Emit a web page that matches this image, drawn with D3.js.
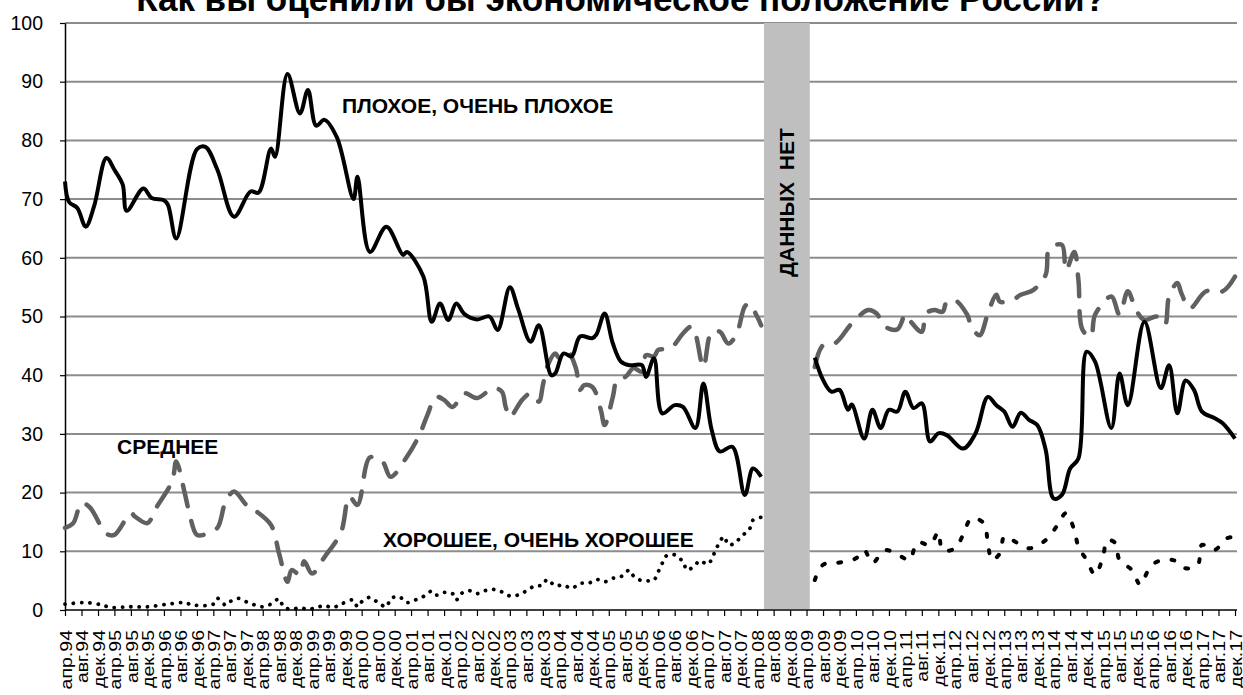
<!DOCTYPE html>
<html>
<head>
<meta charset="utf-8">
<script src="https://cdn.jsdelivr.net/npm/d3@7"></script>
<style>
  body { margin: 0; background: #fff; }
  svg { display: block; font-family: Arial, "Liberation Sans", sans-serif; }
</style>
</head>
<body>
<svg id="chart" width="1243" height="695"></svg>
<script>
// ---- data ----
const title = "Как вы оценили бы экономическое положение России?";
const monthNames = ["апр", "авг", "дек"];
const tickMonths = [4, 8, 12];
const tickYears = d3.range(1994, 2018);
const yTicks = [0, 10, 20, 30, 40, 50, 60, 70, 80, 90, 100];
const gapRange = ["2008-05-22", "2009-04-25"];
const gapLabel = "ДАННЫХ  НЕТ";

// плохое, очень плохое (null = no data)
const badSeries = [
  ["1994-04",73],["1994-05",69.5],["1994-07",68.5],["1994-09",65.3],["1994-11",68.7],
  ["1995-02",77],["1995-04",75],["1995-06",72.5],["1995-07",68],["1995-11",71.8],
  ["1996-01",70.2],["1996-04",69.8],["1996-05",69],["1996-07",63.3],["1996-12",78.5],
  ["1997-02",78.9],["1997-05",75],["1997-09",67],
  ["1998-01",71.3],["1998-03",71.1],["1998-06",78.6],["1998-07",77.2],["1998-10",91.3],
  ["1999-01",84.6],["1999-03",88.6],["1999-05",82.5],["1999-07",83.5],["1999-10",80.5],
  ["2000-02",70],["2000-03",73.8],["2000-06",61],["2000-10",65.3],
  ["2001-02",60.5],["2001-03",61],["2001-07",56.8],["2001-09",49.1],["2001-11",52.2],
  ["2002-01",49.4],["2002-03",52.2],["2002-05",50.4],["2002-08",49.5],["2002-11",50],
  ["2003-01",47.7],["2003-04",55],["2003-06",51.3],["2003-09",45.7],["2003-11",48.5],
  ["2004-02",40],["2004-03",40.3],["2004-05",43.7],["2004-07",43.2],["2004-09",46.6],["2004-12",46.3],
  ["2005-01",47],["2005-03",50.5],["2005-05",45.4],["2005-07",42.3],["2005-09",41.7],["2005-12",41.7],
  ["2006-01",39.7],["2006-03",42.9],["2006-05",33.5],["2006-08",34.9],["2006-10",34.6],
  ["2007-01",31],["2007-03",38.6],["2007-05",30.7],["2007-07",27],["2007-10",27.8],
  ["2008-01",19.6],["2008-03",24.1],["2008-05",22.7],
  ["2008-12",null],
  ["2009-06",43],["2009-08",39.2],["2009-10",37.2],["2009-12",37.5],
  ["2010-02",34.1],["2010-03",35],["2010-06",29.2],["2010-08",34.1],["2010-10",31],["2010-12",34.1],
  ["2011-02",33.8],["2011-04",37.2],["2011-06",34.4],["2011-08",35.2],["2011-10",28.7],["2011-12",30.1],
  ["2012-02",29.8],["2012-06",27.5],["2012-09",30.1],["2012-12",36.3],
  ["2013-02",34.9],["2013-04",33.8],["2013-06",31.2],["2013-08",33.6],["2013-10",32.4],["2013-12",31.5],
  ["2014-02",27.3],["2014-04",19],["2014-06",19.6],["2014-08",24.1],["2014-10",25.8],["2014-12",44],
  ["2015-02",42.3],["2015-06",31],["2015-08",40.3],["2015-10",34.9],
  ["2016-02",49.1],["2016-06",37.8],["2016-08",41.7],["2016-10",33.5],["2016-12",39.1],
  ["2017-02",37.5],["2017-04",33.8],["2017-07",32.7],["2017-09",31.8],["2017-12",29.2]
];

// среднее
const avgSeries = [
  ["1994-04",14],["1994-06",14.8],["1994-08",18.2],["1994-10",17.5],
  ["1995-02",13],["1995-04",12.8],["1995-08",16.5],["1995-09",15.9],["1995-12",14.8],
  ["1996-02",17.3],["1996-06",22],["1996-07",25.3],["1996-09",20],["1996-10",17],["1996-12",12.8],
  ["1997-02",12.9],["1997-05",14],["1997-07",18.5],["1997-09",20.2],["1997-12",17.9],
  ["1998-02",17],["1998-06",14.5],["1998-08",9.5],["1998-10",4.8],["1998-11",6.8],
  ["1999-01",6],["1999-02",8.3],["1999-04",6.2],["1999-07",9],["1999-11",13.3],
  ["2000-01",19.3],["2000-03",17.9],["2000-06",26],["2000-09",25.3],["2000-11",22.7],
  ["2001-03",26.1],["2001-06",29.8],["2001-08",33.3],["2001-10",36.3],["2001-12",35.8],
  ["2002-02",34.6],["2002-05",36.9],["2002-08",36.1],["2002-12",37.8],
  ["2003-02",37.2],["2003-03",34.6],["2003-04",32.9],["2003-07",35.8],["2003-09",36.9],["2003-11",35.5],["2003-12",38.3],
  ["2004-01",41.4],["2004-03",43.7],["2004-04",42.9],["2004-06",44],["2004-08",41.2],["2004-09",37.5],["2004-10",38.3],["2004-12",38],
  ["2005-02",34.1],["2005-03",31.5],["2005-05",36.3],["2005-06",39.2],["2005-08",39.7],["2005-10",41.2],["2005-12",40.6],
  ["2006-01",43.4],["2006-03",43.2],["2006-04",44.3],["2006-07",44.6],["2006-10",47.1],["2006-12",48.3],
  ["2007-01",47.1],["2007-03",41.4],["2007-05",47.4],["2007-07",47.4],["2007-09",45.4],["2007-11",47],
  ["2008-01",51.7],["2008-02",52.2],["2008-04",50],["2008-05",48.5],
  ["2008-12",null],
  ["2009-06",41.4],["2009-08",45.1],["2009-11",45.5],
  ["2010-03",48.8],["2010-07",51.1],["2010-09",50.5],["2010-11",48.3],
  ["2011-02",47.8],["2011-04",50.3],["2011-05",49.4],["2011-08",47.4],["2011-09",50.5],["2011-11",51.1],
  ["2012-01",50.8],["2012-02",52.5],["2012-04",52.8],["2012-07",50.3],["2012-08",48.3],["2012-10",46.8],["2012-12",50.5],
  ["2013-02",53.7],["2013-03",52.5],["2013-06",52.8],["2013-08",53.7],["2013-11",54.5],
  ["2014-02",57.1],["2014-03",61.6],["2014-06",62.2],["2014-07",57.9],["2014-09",61],["2014-10",56.2],["2014-11",47.7],
  ["2015-01",46.6],["2015-02",50.3],["2015-06",53.4],["2015-08",50.3],["2015-10",54.3],["2015-12",51.1],
  ["2016-02",49.4],["2016-05",50],["2016-07",48.6],["2016-08",53.4],["2016-10",55.7],["2016-11",53.9],
  ["2017-01",51.4],["2017-05",54.3],["2017-09",54.3],["2017-12",56.8]
];

// хорошее, очень хорошее
const goodSeries = [
  ["1994-04",1],["1994-09",1.25],["1995-01",0.85],["1995-03",0.45],["1995-08",0.55],["1995-12",0.55],
  ["1996-05",1],["1996-09",1.25],["1996-11",0.85],
  ["1997-04",1],["1997-05",2],["1997-07",0.85],["1997-08",1.4],["1997-10",2],["1997-12",1.4],
  ["1998-02",0.85],["1998-04",0.55],["1998-06",1],["1998-08",1.9],["1998-09",0.55],["1998-11",0.1],
  ["1999-01",0.4],["1999-03",0.1],["1999-05",0.4],["1999-07",0.75],["1999-09",0.4],["1999-11",1],
  ["2000-02",1.7],["2000-03",0.55],["2000-04",1.4],["2000-06",2.15],["2000-08",1.25],["2000-10",0.55],["2000-11",1.9],
  ["2001-01",2.3],["2001-03",1.25],["2001-05",1.7],["2001-07",2.3],["2001-09",3.2],["2001-10",2.55],["2001-12",3],
  ["2002-02",2.8],["2002-03",1.7],["2002-04",2.7],["2002-06",3.3],["2002-08",2.8],["2002-10",3.3],["2002-12",3.5],
  ["2003-02",3.1],["2003-04",2.4],["2003-06",2.55],["2003-08",3.25],["2003-10",4.1],["2003-12",4.25],
  ["2004-01",5.2],["2004-03",4.15],["2004-05",4.25],["2004-07",3.7],["2004-09",4.55],["2004-11",4.55],
  ["2005-01",5.2],["2005-03",4.8],["2005-05",5.4],["2005-07",5.7],["2005-09",6.8],["2005-10",5.8],["2005-12",5],
  ["2006-02",5],["2006-03",5.1],["2006-04",6.5],["2006-05",7.95],["2006-06",9.25],["2006-08",9.4],["2006-10",8.2],["2006-11",6.8],
  ["2007-01",7.7],["2007-02",8.4],["2007-04",7.8],["2007-05",8.6],["2007-06",10.3],["2007-08",12.5],["2007-09",11.1],["2007-11",11.6],["2007-12",12.5],
  ["2008-02",13.6],["2008-03",15.3],["2008-05",15.8],
  ["2008-12",null],
  ["2009-06",5.1],["2009-08",7.7],["2009-12",8.1],
  ["2010-04",8.8],["2010-06",10.2],["2010-08",8],["2010-11",10.2],
  ["2011-03",9.1],["2011-05",8.5],["2011-07",11.5],["2011-10",11.1],["2011-12",13.3],
  ["2012-01",10.2],["2012-04",10.5],["2012-06",12.8],["2012-08",15.6],["2012-11",14.8],["2012-12",11.4],
  ["2013-01",8.5],["2013-03",9.7],["2013-04",12.5],["2013-06",11.9],["2013-10",10.5],
  ["2014-02",11.9],["2014-05",14.5],["2014-07",16.5],["2014-09",13.6],["2014-10",10.8],["2014-12",8.5],
  ["2015-02",6],["2015-04",9.1],["2015-05",11.9],["2015-07",11.4],["2015-08",8.5],["2015-11",6.8],
  ["2016-01",4.3],["2016-03",6.8],["2016-05",8.2],["2016-09",8.5],["2016-12",7.1],
  ["2017-03",7.7],["2017-04",11.1],["2017-07",10.2],["2017-10",12.2],["2017-12",12.5]
];

// ---- chart ----
const parseM = d3.timeParse("%Y-%m");
const parseD = d3.timeParse("%Y-%m-%d");

const x = d3.scaleTime()
    .domain([parseM("1994-04"), parseM("2017-12")])
    .range([65, 1235]);
const y = d3.scaleLinear().domain([0, 100]).range([610, 23]);

const svg = d3.select("#chart");

// title (runs off the top edge like the source picture)
svg.append("text")
    .attr("x", 621).attr("y", 11)
    .attr("text-anchor", "middle")
    .attr("font-weight", "bold")
    .attr("font-size", 35)
    .text(title);

// gridlines
svg.append("g")
  .selectAll("line")
  .data(yTicks.filter(d => d > 0))
  .join("line")
    .attr("x1", 65).attr("x2", 1237)
    .attr("y1", d => y(d)).attr("y2", d => y(d))
    .attr("stroke", "#8c8c8c")
    .attr("stroke-width", 2);

// axes
var tickDates = [];
tickYears.forEach(yr => tickMonths.forEach(m => tickDates.push(new Date(yr, m - 1, 1))));

const labelStretch = 1.15;
const xAxis = g => g
    .attr("transform", `translate(0,${y(0)})`)
    .call(d3.axisBottom(x).tickValues(tickDates).tickSize(6).tickSizeOuter(0)
      .tickFormat(d => monthNames[tickMonths.indexOf(d.getMonth() + 1)] + "." + String(d.getFullYear()).slice(2)))
    .attr("font-family", null).attr("font-size", null)
    .call(g => g.select(".domain").attr("stroke", "#000").attr("stroke-width", 1.5)
        .attr("d", `M65,0H1237`))
    .call(g => g.selectAll(".tick line").attr("stroke", "#000").attr("stroke-width", 1.2))
    .call(g => g.selectAll(".tick text")
        .attr("x", -20 / labelStretch).attr("y", 0).attr("dy", "0.36em")
        .attr("text-anchor", "end")
        .attr("transform", `rotate(-90) scale(${labelStretch},1)`)
        .attr("font-size", 17)
        .attr("fill", "#000"));

const yAxis = g => g
    .attr("transform", `translate(65,0)`)
    .call(d3.axisLeft(y).tickValues(yTicks).tickSize(5).tickPadding(17).tickSizeOuter(0))
    .attr("font-family", null).attr("font-size", null)
    .call(g => g.select(".domain").attr("stroke", "#000").attr("stroke-width", 1.5))
    .call(g => g.selectAll(".tick line").attr("stroke", "#000").attr("stroke-width", 1.2))
    .call(g => g.selectAll(".tick text")
        .attr("font-size", 19.5)
        .attr("fill", "#000"));

svg.append("g").call(xAxis);
svg.append("g").call(yAxis);

// no data band
const gx0 = x(parseD(gapRange[0])), gx1 = x(parseD(gapRange[1]));
svg.append("rect")
    .attr("x", gx0).attr("y", y(100))
    .attr("width", gx1 - gx0).attr("height", y(0) - y(100) - 1)
    .attr("fill", "#bfbfbf");
svg.append("text")
    .attr("transform", `translate(${(gx0 + gx1) / 2},${y(69.4)}) rotate(-90)`)
    .attr("text-anchor", "middle")
    .attr("dy", "0.36em")
    .attr("font-weight", "bold")
    .attr("font-size", 21)
    .attr("xml:space", "preserve")
    .style("white-space", "pre")
    .text(gapLabel);

// series
function segments(series) {
  var out = [], cur = [];
  series.forEach(d => {
    if (d[1] == null) { if (cur.length) out.push(cur); cur = []; }
    else cur.push(d);
  });
  if (cur.length) out.push(cur);
  return out;
}

const line = d3.line()
    .x(d => x(parseM(d[0])))
    .y(d => y(d[1]))
    .curve(d3.curveCatmullRom.alpha(0.5));

svg.append("g").selectAll("path")
  .data(segments(avgSeries))
  .join("path")
    .attr("d", line)
    .attr("fill", "none")
    .attr("stroke", "#606060")
    .attr("stroke-width", 4.5)
    .attr("stroke-linecap", "round")
    .attr("stroke-dasharray", "22 15");

svg.append("g").selectAll("path")
  .data(segments(badSeries))
  .join("path")
    .attr("d", line)
    .attr("fill", "none")
    .attr("stroke", "#000")
    .attr("stroke-width", 4)
    .attr("stroke-linejoin", "round");

svg.append("g").selectAll("path")
  .data(segments(goodSeries))
  .join("path")
    .attr("d", line)
    .attr("fill", "none")
    .attr("stroke", "#000")
    .attr("stroke-width", (d, i) => i == 0 ? 3.8 : 4)
    .attr("stroke-linecap", "round")
    .attr("stroke-dasharray", (d, i) => i == 0 ? "0.1 8.2" : "3 13.5");

// series labels
const notes = [
  {text: "ПЛОХОЕ, ОЧЕНЬ ПЛОХОЕ", x: 342, y: 112.5},
  {text: "СРЕДНЕЕ", x: 117, y: 454},
  {text: "ХОРОШЕЕ, ОЧЕНЬ ХОРОШЕЕ", x: 383, y: 547}
];
svg.append("g").selectAll("text")
  .data(notes)
  .join("text")
    .attr("x", d => d.x).attr("y", d => d.y)
    .attr("font-weight", "bold")
    .attr("font-size", 21)
    .text(d => d.text);
</script>
</body>
</html>
